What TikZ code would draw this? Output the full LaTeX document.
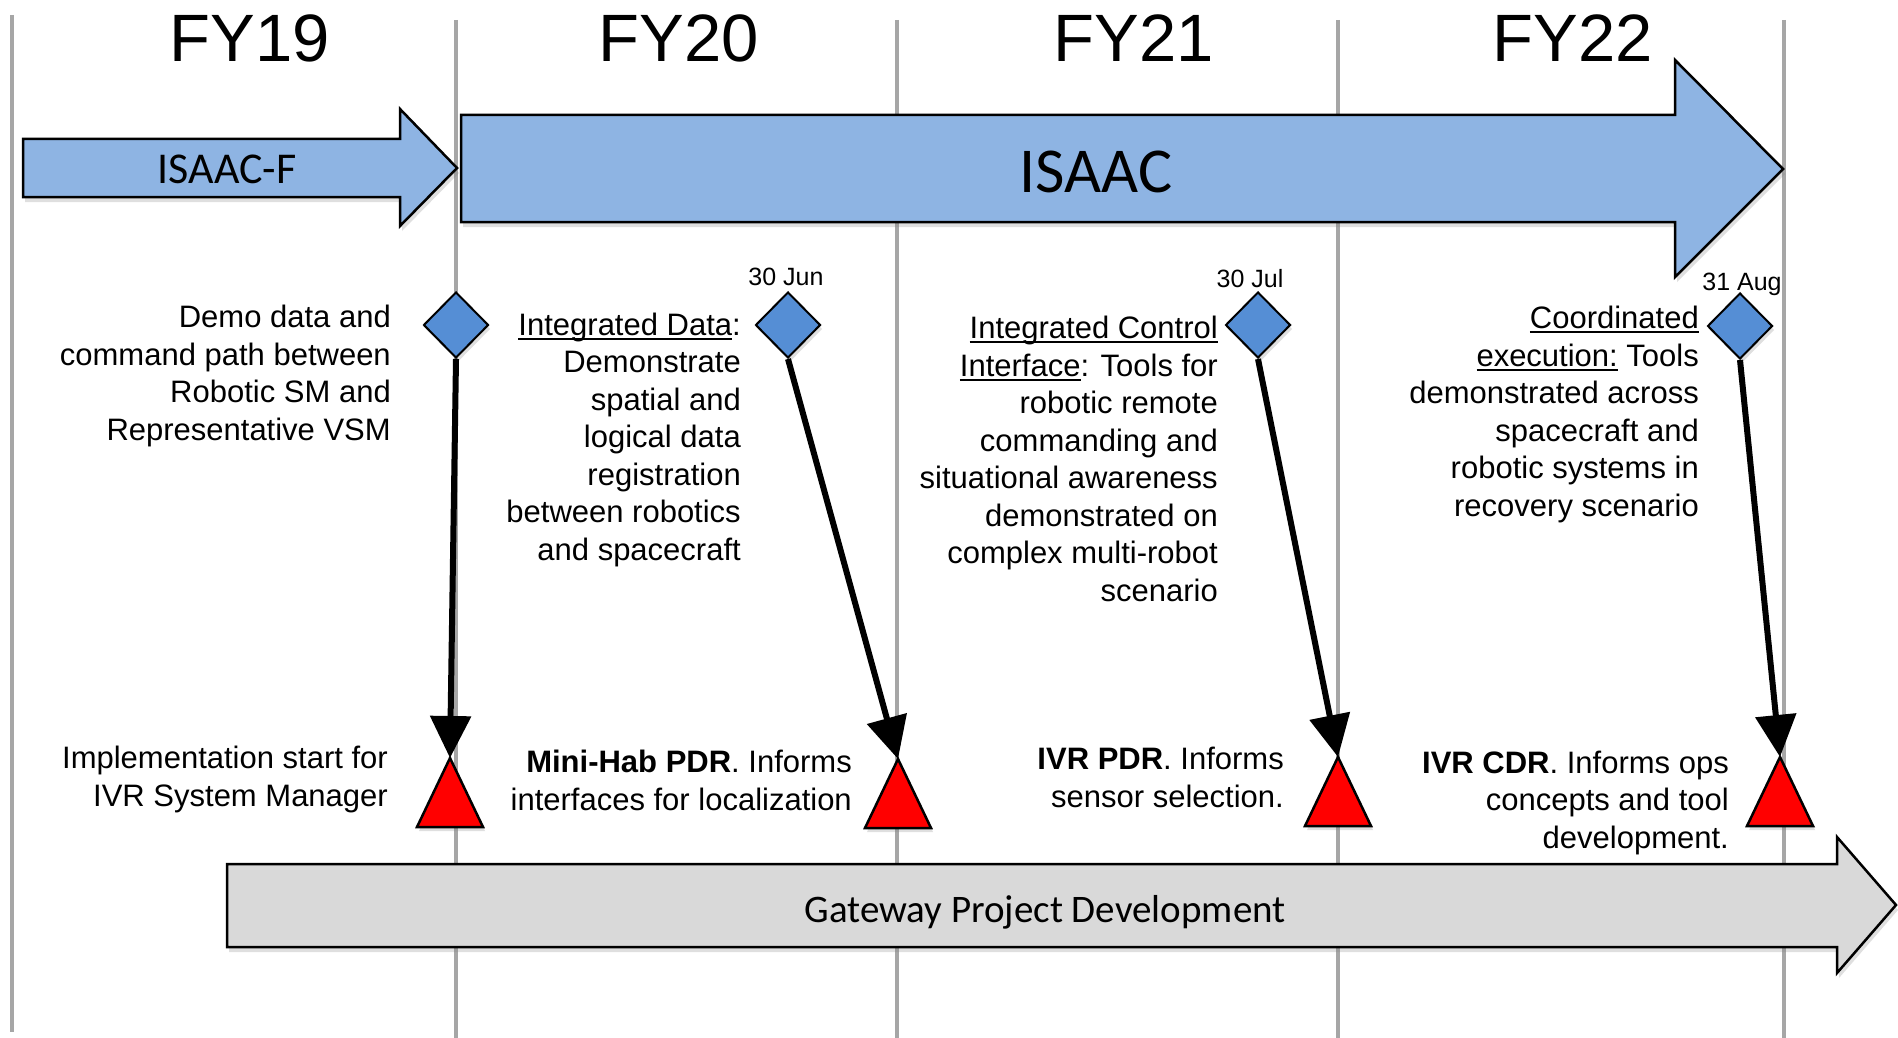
\documentclass[tikz,border=0pt]{standalone}
\usepackage{fontspec}
\setmainfont{Liberation Sans}
\newfontfamily\calibri{Carlito}
\usetikzlibrary{arrows.meta,shapes.geometric,shadows}
\definecolor{bleuclair}{RGB}{142,180,227}
\definecolor{bleu}{RGB}{85,142,213}
\definecolor{grisligne}{RGB}{166,166,166}
\definecolor{grisfond}{RGB}{217,217,217}
\newcommand{\souligne}[1]{\setbox0\hbox{#1}\rlap{\rule[-4.5pt]{\wd0}{2pt}}\box0\relax}

\begin{document}
\begin{tikzpicture}[x=1pt, y=-1pt]
			\tikzset{annee/.style={anchor=base, font=\fontsize{67}{80}\selectfont},
				ligne/.style={draw=grisligne, line width=4pt},
				bloc/.style={draw=black, line width=2.5pt, line join=miter, drop shadow={opacity=0.25, shadow xshift=2pt, shadow yshift=-5pt}},
				jalon/.style={diamond, draw=black, line width=2pt, fill=bleu, inner sep=0pt, minimum width=65pt, minimum height=66pt, drop shadow={opacity=0.25, shadow xshift=2pt, shadow yshift=-4pt}},
				revue/.style={draw=black, line width=2.5pt, fill=red, line join=miter, drop shadow={opacity=0.25, shadow xshift=2pt, shadow yshift=-4pt}},
				texte/.style={anchor=base east, align=right, inner sep=0pt, font=\fontsize{31}{37.5}\selectfont},
				date/.style={anchor=base, inner sep=0pt, font=\fontsize{25}{30}\selectfont},
				fleche/.style={line width=6pt, -{Triangle[length=42pt, width=40pt]}}};

			\useasboundingbox (0,0) rectangle (1898,1038);

			\draw[ligne] (  12,   15) -- (  12, 1032);
			\draw[ligne] ( 456,   20) -- ( 456, 1038);
			\draw[ligne] ( 897,   20) -- ( 897, 1038);
			\draw[ligne] (1338,   20) -- (1338, 1038);
			\draw[ligne] (1784,   20) -- (1784, 1038);

			\node[annee] (fy19) at ( 250,   62) {FY19};
			\node[annee] (fy20) at ( 679,   62) {FY20};
			\node[annee] (fy21) at (1134,   62) {FY21};
			\node[annee] (fy22) at (1573,   62) {FY22};

			\draw[bloc, fill=bleuclair] (23,139) -- (400,139) -- (400,109) -- (457,168) -- (400,226) -- (400,197) -- (23,197) -- cycle;
			\draw[bloc, fill=bleuclair] (461,115) -- (1675,115) -- (1675,60) -- (1783,169) -- (1675,277) -- (1675,222) -- (461,222) -- cycle;
			\draw[bloc, fill=grisfond] (227,864) -- (1837,864) -- (1837,837) -- (1896,905) -- (1837,973) -- (1837,947) -- (227,947) -- cycle;

			\node[anchor=base, font=\calibri\fontsize{44}{50}\selectfont] (isaacf) at ( 227,  183) {ISAAC-F};
			\node[anchor=base, font=\calibri\fontsize{64}{70}\selectfont] (isaac) at (1096,  193) {ISAAC};
			\node[anchor=base, font=\calibri\fontsize{39}{45}\selectfont] (gateway) at (1045,  922) {Gateway Project Development};

			\node[date] (jun) at ( 786,  285) {30 Jun};
			\node[date] (jul) at (1250,  287) {30 Jul};
			\node[date] (aug) at (1742,  290) {31 Aug};

			\node[texte] (b1) at ( 391,  440) {Demo data and\\command path between\\Robotic SM and\\Representative VSM};
			\node[texte] (b2) at ( 741,  560) {\souligne{Integrated Data}:\\Demonstrate\\spatial and\\logical data\\registration\\between robotics\\and spacecraft};
			\node[texte] (b3) at (1218,  601) {\souligne{Integrated Control}\\\souligne{Interface}: Tools for\\robotic remote\\commanding and\\situational awareness\\demonstrated on\\complex multi-robot\\scenario};
			\node[texte] (b4) at (1699,  516) {\souligne{Coordinated}\\\souligne{execution:} Tools\\demonstrated across\\spacecraft and\\robotic systems in\\recovery scenario};

			\node[texte] (t1) at ( 388,  806) {Implementation start for\\IVR System Manager};
			\node[texte] (t2) at ( 852,  810) {\textbf{Mini-Hab PDR}. Informs\\interfaces for localization};
			\node[texte] (t3) at (1284,  807) {\textbf{IVR PDR}. Informs\\sensor selection.};
			\node[texte] (t4) at (1729,  848) {\textbf{IVR CDR}. Informs ops\\concepts and tool\\development.};

			\node[jalon] (j1) at ( 456,  325) {};
			\node[jalon] (j2) at ( 788,  325) {};
			\node[jalon] (j3) at (1258,  325) {};
			\node[jalon] (j4) at (1740,  326) {};

			\coordinate (r1) at ( 450,  758);
			\coordinate (r2) at ( 898,  759);
			\coordinate (r3) at (1338,  757);
			\coordinate (r4) at (1780,  757);

			\draw[fleche] (j1.south) to (r1);
			\draw[fleche] (j2.south) to (r2);
			\draw[fleche] (j3.south) to (r3);
			\draw[fleche] (j4.south) to (r4);

			\draw[revue] (r1) -- ++(33,69) -- ++(-66,0) -- cycle;
			\draw[revue] (r2) -- ++(33,69) -- ++(-66,0) -- cycle;
			\draw[revue] (r3) -- ++(33,69) -- ++(-66,0) -- cycle;
			\draw[revue] (r4) -- ++(33,69) -- ++(-66,0) -- cycle;

		\end{tikzpicture}
\end{document}
